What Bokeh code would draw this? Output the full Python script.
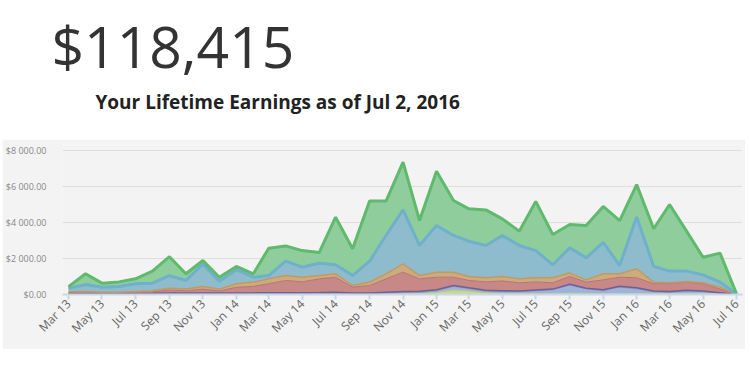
import math
import pandas as pd
from bokeh.plotting import figure
from bokeh.layouts import column
from bokeh.models import (ColumnDataSource, Range1d, FixedTicker, MonthsTicker,
                          DatetimeTickFormatter, Label)
from bokeh.embed import file_html
from bokeh.resources import INLINE

# ---------------- data (monthly earnings per source, stacked bottom -> top) -------------
months = ["2013-03", "2013-04", "2013-05", "2013-06", "2013-07", "2013-08", "2013-09", "2013-10",
          "2013-11", "2013-12", "2014-01", "2014-02", "2014-03", "2014-04", "2014-05", "2014-06",
          "2014-07", "2014-08", "2014-09", "2014-10", "2014-11", "2014-12", "2015-01", "2015-02",
          "2015-03", "2015-04", "2015-05", "2015-06", "2015-07", "2015-08", "2015-09", "2015-10",
          "2015-11", "2015-12", "2016-01", "2016-02", "2016-03", "2016-04", "2016-05", "2016-06",
          "2016-07"]
lime = [30, 30, 30, 30, 30, 30, 30, 30, 30, 30, 30, 30, 30, 30, 30, 30, 30, 30, 30, 30, 40,
        60, 120, 250, 200, 100, 60, 60, 60, 60, 80, 60, 60, 60, 60, 50, 40, 40, 40, 30, 0]
periwinkle = [20, 20, 20, 20, 20, 20, 30, 30, 30, 30, 30, 30, 30, 30, 30, 30, 30, 30, 30, 40, 60,
              60, 80, 200, 120, 80, 100, 100, 150, 200, 450, 250, 150, 350, 250, 100, 80, 150, 120, 50, 0]
purple = [10, 10, 10, 10, 10, 15, 20, 20, 30, 20, 30, 30, 40, 40, 40, 50, 70, 30, 30, 60, 70,
          60, 60, 50, 50, 50, 50, 40, 40, 40, 40, 40, 50, 50, 60, 40, 40, 40, 40, 20, 0]
red = [50, 70, 40, 40, 70, 85, 170, 120, 210, 120, 310, 360, 500, 680, 600, 760, 830, 320, 410, 740,
       1070, 690, 700, 460, 410, 470, 540, 450, 450, 350, 430, 340, 550, 500, 560, 410, 440, 460, 400, 200, 0]
tan = [40, 40, 30, 30, 40, 60, 100, 100, 150, 100, 200, 240, 270, 270, 260, 180, 190, 90, 190, 280,
       460, 180, 280, 280, 220, 230, 250, 220, 230, 280, 190, 120, 340, 190, 500, 90, 50, 30, 50, 110, 0]
blue = [200, 380, 270, 320, 430, 420, 700, 480, 1250, 440, 780, 270, 180, 800, 560, 690, 500, 550,
        1160, 2130, 3000, 1670, 2590, 2040, 1960, 1790, 2280, 1850, 1510, 720, 1400, 1230, 1750, 460,
        2870, 870, 650, 580, 440, 280, 20]
green = [90, 600, 230, 250, 270, 670, 1050, 370, 190, 220, 180, 190, 1520, 850, 920, 590, 2650,
         1490, 3340, 1910, 2650, 1390, 3020, 1940, 1800, 1980, 920, 800, 2730, 1680, 1300, 1790, 1990,
         2500, 1810, 2090, 3700, 2220, 980, 1610, 30]

y_ticks = [0, 2000, 4000, 6000, 8000]
y_tick_labels = ["$0.00", "$2 000.00", "$4 000.00", "$6 000.00", "$8 000.00"]

headline = "$118,415"
subtitle = "Your Lifetime Earnings as of Jul 2, 2016"

# ---------------- styles ----------------
names = ["lime", "periwinkle", "purple", "red", "tan", "blue", "green"]
fills = ["#c6d88f", "#9fb1dd", "#9a88a8", "#c98888", "#cdab7c", "#8fbccc", "#8fcd9c"]
lines = ["#b4c97a", "#8797cc", "#6d6290", "#b87272", "#c09a64", "#6fb0ca", "#5fba6d"]
widths = [1, 1, 1.5, 1, 1.5, 3, 3]

dates = pd.to_datetime(months)
source = ColumnDataSource(dict(x=dates, lime=lime, periwinkle=periwinkle, purple=purple,
                               red=red, tan=tan, blue=blue, green=green))

FONT = "Open Sans"

# ---------------- header ----------------
header = figure(frame_width=680, frame_height=139, x_range=Range1d(50, 730), y_range=Range1d(0, 139),
                output_backend="svg", toolbar_location=None, min_border=0,
                min_border_left=0, min_border_right=0, min_border_top=0, min_border_bottom=0,
                x_axis_location=None, y_axis_location=None, title=None,
                margin=(0, 0, 0, -10))
header.grid.visible = False
header.outline_line_color = None
header.background_fill_color = "white"
header.border_fill_color = "white"
header.add_layout(Label(x=51, y=94, text=headline, text_font=FONT, text_font_size="57px",
                        text_color="#333333", text_baseline="alphabetic"))
header.add_layout(Label(x=95, y=38, text=subtitle, text_font=FONT, text_font_size="19px",
                        text_font_style="bold", text_color="#222222", text_baseline="alphabetic"))

# ---------------- chart ----------------
x0 = pd.Timestamp("2013-03-01") - pd.Timedelta(days=11)
x1 = pd.Timestamp("2016-07-01") + pd.Timedelta(days=11)
p = figure(width=743, height=210, x_axis_type="datetime", x_range=Range1d(x0, x1),
           y_range=Range1d(0, 8333), output_backend="svg", toolbar_location=None,
           min_border_left=60, min_border_right=3, min_border_top=5, min_border_bottom=55,
           margin=(0, 0, 0, 2))
p.background_fill_color = "#f3f3f3"
p.border_fill_color = "#f3f3f3"
p.outline_line_color = None

p.varea_stack(stackers=names, x="x", color=fills, source=source)
p.vline_stack(stackers=names, x="x", color=lines, line_width=widths, source=source)

p.xgrid.visible = False
p.ygrid.grid_line_color = "#dedede"
p.ygrid.grid_line_width = 1
p.ygrid.ticker = FixedTicker(ticks=y_ticks)

p.yaxis.ticker = FixedTicker(ticks=y_ticks)
p.yaxis.major_label_overrides = dict(zip(y_ticks, y_tick_labels))
p.yaxis.axis_line_color = None
p.yaxis.major_tick_line_color = None
p.yaxis.minor_tick_line_color = None
p.yaxis.major_label_standoff = 10
p.yaxis.major_label_text_font = FONT
p.yaxis.major_label_text_font_size = "9px"
p.yaxis.major_label_text_color = "#888888"

p.xaxis.ticker = MonthsTicker(months=[0, 2, 4, 6, 8, 10])
p.xaxis.formatter = DatetimeTickFormatter(days="%b %y", months="%b %y", years="%b %y")
p.xaxis.axis_line_color = "#c8d8e8"
p.xaxis.axis_line_width = 2
p.xaxis.major_tick_line_color = "#c8d8e8"
p.xaxis.major_tick_line_width = 2
p.xaxis.major_tick_in = 0
p.xaxis.major_tick_out = 5
p.xaxis.minor_tick_line_color = None
p.xaxis.major_label_orientation = math.pi / 4
p.xaxis.major_label_standoff = 2
p.xaxis.major_label_text_font = FONT
p.xaxis.major_label_text_font_size = "12px"
p.xaxis.major_label_text_color = "#666666"

layout = column(header, p, spacing=0)
open("out.html", "w").write(file_html(layout, INLINE))
